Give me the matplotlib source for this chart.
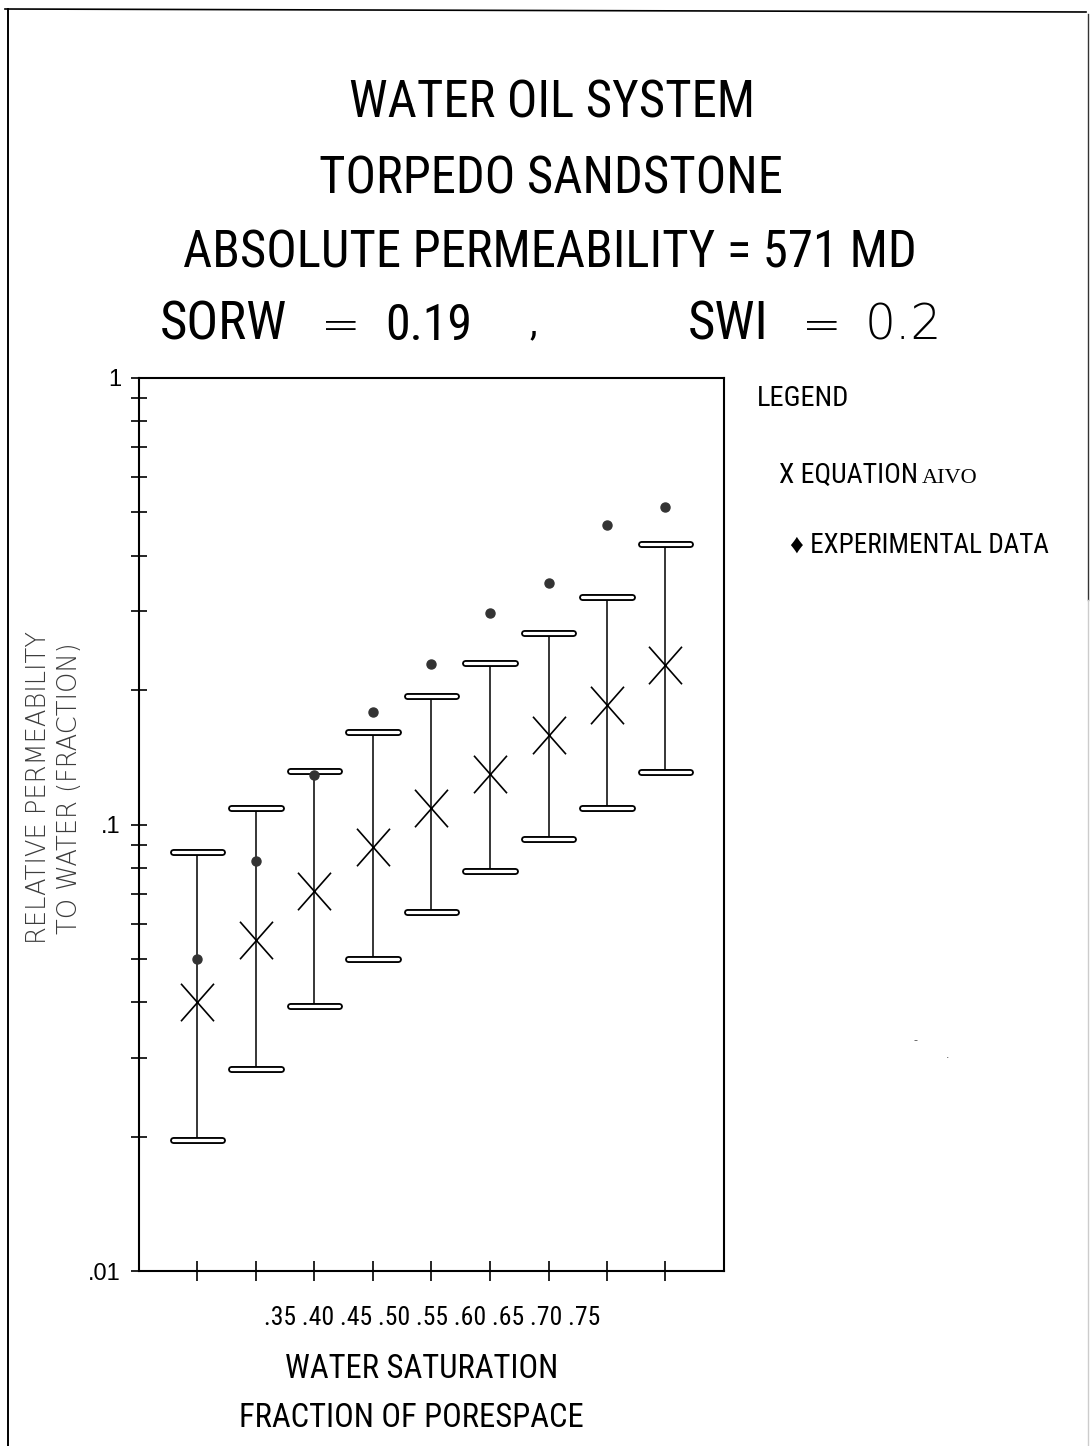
import matplotlib.pyplot as plt
from matplotlib.path import Path
from matplotlib.lines import Line2D
from matplotlib.ticker import LogLocator, NullFormatter, FixedLocator, FixedFormatter

W, H = 1091, 1446

water_sat = [0.35, 0.40, 0.45, 0.50, 0.55, 0.60, 0.65, 0.70, 0.75]
sat_labels = ['.35', '.40', '.45', '.50', '.55', '.60', '.65', '.70', '.75']
krw_equation = [0.040, 0.055, 0.071, 0.089, 0.109, 0.130, 0.159, 0.185, 0.228]
krw_upper = [0.087, 0.109, 0.132, 0.161, 0.194, 0.230, 0.268, 0.324, 0.425]
krw_lower = [0.0197, 0.0283, 0.0392, 0.0499, 0.0638, 0.0787, 0.0928, 0.109, 0.131]
krw_experiment = [0.050, 0.083, 0.129, 0.179, 0.229, 0.297, 0.348, 0.469, 0.515]

y_ticks = [0.01, 0.1, 1]
y_labels = ['.01', '.1', '1']

NARROW = ['Roboto Condensed', 'Liberation Sans', 'DejaVu Sans']
THIN = ['DejaVu Sans']


def px(x, y):
    # pixel position on the page -> figure fraction
    return x / W, 1 - y / H


def cross_marker():
    verts = [(-0.44, -0.5), (0.44, 0.5), (-0.44, 0.5), (0.44, -0.5)]
    codes = [Path.MOVETO, Path.LINETO, Path.MOVETO, Path.LINETO]
    return Path(verts, codes)


plt.rcParams['font.family'] = ['Liberation Sans', 'DejaVu Sans']

fig = plt.figure(figsize=(W / 100, H / 100), dpi=100)
fig.patch.set_facecolor('white')

ax = fig.add_axes([139 / W, 1 - 1271 / H, (724 - 139) / W, (1271 - 378) / H])
ax.set_yscale('log')
ax.set_xlim(0.30, 0.80)
ax.set_ylim(0.01, 1)

for side in ['left', 'right', 'top', 'bottom']:
    ax.spines[side].set_linewidth(1.5)

ax.yaxis.set_major_locator(FixedLocator(y_ticks))
ax.yaxis.set_major_formatter(FixedFormatter(y_labels))
ax.yaxis.set_minor_locator(LogLocator(base=10, subs=range(2, 10)))
ax.yaxis.set_minor_formatter(NullFormatter())
ax.tick_params(axis='y', which='both', direction='inout', length=12, width=1.2, pad=7,
               labelsize=17)

ax.set_xticks(water_sat)
ax.set_xticklabels([''] * len(water_sat))
ax.tick_params(axis='x', which='both', direction='inout', length=15, width=1.2)

# error bars with hollow rounded caps
half = 0.0210
for x, lo, hi in zip(water_sat, krw_lower, krw_upper):
    ax.vlines(x, lo, hi, color='black', linewidth=1.1, zorder=2)
    for y in (lo, hi):
        ax.plot([x - half, x + half], [y, y], color='black', linewidth=5.0,
                solid_capstyle='round', zorder=3)
        ax.plot([x - half, x + half], [y, y], color='white', linewidth=2.3,
                solid_capstyle='round', zorder=4)

ax.plot(water_sat, krw_equation, linestyle='none', marker=cross_marker(),
        markersize=27, markeredgewidth=1.2, markeredgecolor='black', zorder=5)
ax.plot(water_sat, krw_experiment, linestyle='none', marker='o', markersize=6.5,
        color='#333333', zorder=6)

# titles
fig.text(*px(552, 118), 'WATER OIL SYSTEM', ha='center', va='baseline',
         fontsize=36.5, family=NARROW)
fig.text(*px(551, 193), 'TORPEDO SANDSTONE', ha='center', va='baseline',
         fontsize=36.5, family=NARROW)
fig.text(*px(550, 268), 'ABSOLUTE PERMEABILITY = 571 MD', ha='center', va='baseline',
         fontsize=36.5, family=NARROW)

fig.text(*px(160, 340), 'SORW', ha='left', va='baseline', fontsize=38, family=NARROW)
fig.text(*px(341, 340), '=', ha='center', va='baseline', fontsize=34, family=THIN,
         fontweight='light')
fig.text(*px(385, 340), '0.19', ha='left', va='baseline', fontsize=36, family=NARROW)
fig.text(*px(533, 334), ',', ha='center', va='baseline', fontsize=28, family=NARROW)
fig.text(*px(688, 340), 'SWI', ha='left', va='baseline', fontsize=38, family=NARROW)
fig.text(*px(822, 340), '=', ha='center', va='baseline', fontsize=34, family=THIN,
         fontweight='light')
fig.text(*px(865, 340), '0.2', ha='left', va='baseline', fontsize=35, family=THIN,
         fontweight='light')

# legend block
fig.text(*px(757, 406), 'LEGEND', ha='left', va='baseline', fontsize=20.5, family=NARROW)
fig.text(*px(779, 483), 'X EQUATION', ha='left', va='baseline', fontsize=20, family=NARROW)
fig.text(*px(922, 483), 'AIVO', ha='left', va='baseline', fontsize=16,
         family=['Liberation Serif', 'DejaVu Serif'])
fig.text(*px(790, 553), '\u2666 EXPERIMENTAL DATA', ha='left', va='baseline',
         fontsize=19.5, family=NARROW)

# axis labels
fig.text(*px(432, 1325), ' '.join(sat_labels), ha='center', va='baseline',
         fontsize=18.5, family=NARROW)
fig.text(*px(422, 1378), 'WATER SATURATION', ha='center', va='baseline',
         fontsize=23.5, family=NARROW)
fig.text(*px(411, 1427), 'FRACTION OF PORESPACE', ha='center', va='baseline',
         fontsize=23.5, family=NARROW)
fig.text(*px(54, 788), 'RELATIVE PERMEABILITY\nTO WATER (FRACTION)', rotation=90,
         ha='center', va='center', multialignment='center', linespacing=1.3,
         fontsize=18.5, family=THIN, fontweight='light', color='#3c3c3c')

# small stray marks on the sheet
fig.text(*px(915, 1044), '-', ha='center', va='baseline', fontsize=9, color='#555555')
fig.text(*px(948, 1058), '.', ha='center', va='baseline', fontsize=9, color='#555555')

# page frame
fig.add_artist(Line2D([8 / W, 8 / W], [1 - 9 / H, 0], color='black', linewidth=1.4,
                      transform=fig.transFigure))
fig.add_artist(Line2D([5 / W, 1086 / W], [1 - 9 / H, 1 - 12 / H], color='black',
                      linewidth=1.2, transform=fig.transFigure))
fig.add_artist(Line2D([1088 / W, 1088 / W], [1 - 14 / H, 1 - 600 / H], color='#333333',
                      linewidth=1.0, transform=fig.transFigure))
fig.add_artist(Line2D([1088 / W, 1088 / W], [1 - 600 / H, 0], color='#cccccc',
                      linewidth=1.0, transform=fig.transFigure))

fig.savefig('out.png', dpi=100, facecolor='white')
